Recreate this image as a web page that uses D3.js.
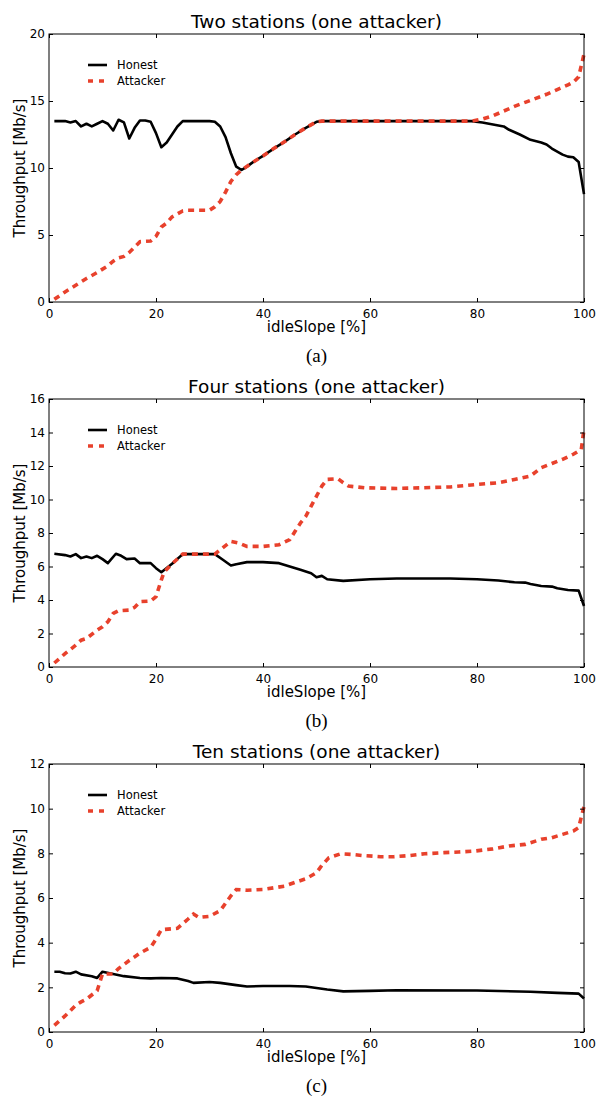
<!DOCTYPE html>
<html>
<head>
<meta charset="utf-8">
<script src="https://cdn.jsdelivr.net/npm/d3@7"></script>
<style>
  body { margin: 0; background: #fff; }
  svg { display: block; }
  text { font-family: 'DejaVu Sans', sans-serif; fill: #000; }
  .caption { font-family: 'Liberation Serif', 'DejaVu Serif', serif; }
</style>
</head>
<body>
<svg id="chart" width="600" height="1097"></svg>
<script>
// idleSlope [%] vs throughput [Mb/s]
const twoHonest = [[1,13.5],[3,13.5],[4,13.4],[5,13.5],[6,13.1],[7,13.3],[8,13.1],[9,13.3],[10,13.5],[11,13.3],[12,12.8],[13,13.6],[14,13.4],[15,12.2],[16,13.0],[17,13.55],[18,13.55],[19,13.45],[20,12.6],[21,11.55],[22,11.9],[23,12.5],[24,13.1],[25,13.5],[30,13.5],[31,13.45],[32,13.1],[33,12.3],[34,11.1],[35,10.1],[36,9.85],[37,10.1],[38,10.4],[40,10.9],[42,11.45],[44,11.95],[46,12.5],[48,13.0],[50,13.45],[51,13.5],[79,13.5],[81,13.4],[83,13.25],[85,13.1],[86,12.85],[88,12.5],[90,12.1],[92,11.9],[93,11.75],[94,11.45],[96,11.0],[97,10.85],[98,10.8],[99,10.45],[100,8.05]]
const twoAttacker = [[1,0.2],[3,0.75],[5,1.25],[7,1.75],[9,2.2],[11,2.7],[12,3.05],[13,3.3],[14,3.4],[15,3.7],[16,4.1],[17,4.5],[19,4.55],[20,4.9],[21,5.6],[22,5.9],[23,6.35],[25,6.8],[26,6.85],[30,6.85],[31,7.1],[32,7.5],[33,8.2],[34,9.0],[35,9.5],[36,9.85],[38,10.4],[40,10.9],[42,11.45],[44,11.95],[46,12.5],[48,13.0],[50,13.45],[51,13.5],[79,13.5],[81,13.65],[83,13.9],[85,14.25],[87,14.6],[89,14.9],[91,15.2],[93,15.5],[95,15.85],[97,16.2],[98,16.4],[99,16.8],[100,18.5]]

const fourHonest = [[1,6.76],[3,6.68],[4,6.6],[5,6.74],[6,6.5],[7,6.6],[8,6.5],[9,6.64],[10,6.44],[11,6.2],[12.5,6.76],[13.5,6.64],[14.5,6.44],[16,6.48],[17,6.2],[19,6.2],[20,5.9],[21,5.66],[23,6.16],[25,6.74],[31,6.74],[32.5,6.4],[34,6.06],[35,6.14],[37,6.26],[40,6.26],[43,6.2],[45,6.0],[47,5.8],[49,5.6],[50,5.36],[51,5.44],[52,5.24],[55,5.14],[60,5.24],[65,5.28],[75,5.28],[80,5.24],[84,5.16],[87,5.06],[89,5.04],[90,4.96],[92,4.84],[94,4.8],[95,4.7],[97,4.6],[99,4.56],[100,3.64]]
const fourAttacker = [[1,0.24],[3,0.8],[5,1.3],[6,1.6],[7,1.7],[9,2.2],[10,2.4],[11,2.7],[12,3.2],[13,3.36],[15,3.4],[16,3.56],[17,3.9],[19,3.94],[20,4.2],[21,5.2],[21.5,5.66],[23,6.16],[25,6.74],[31,6.74],[32,7.0],[34,7.5],[35.5,7.4],[37,7.2],[40,7.2],[43,7.3],[45,7.6],[46,8.1],[47,8.6],[48,9.0],[49,9.6],[50,10.2],[51,10.8],[52,11.2],[54,11.24],[55,11.0],[56,10.8],[59,10.7],[65,10.66],[70,10.7],[75,10.75],[80,10.9],[84,11.0],[87,11.2],[90,11.4],[92,11.9],[94,12.15],[96,12.4],[98,12.7],[99.5,13.0],[100,14.2]]

const tenHonest = [[1,2.7],[2,2.7],[3,2.63],[4,2.62],[5,2.7],[6,2.58],[8,2.5],[9,2.42],[10,2.7],[12,2.6],[14,2.5],[17,2.42],[19,2.4],[21,2.42],[24,2.4],[26,2.28],[27,2.2],[30,2.24],[32,2.2],[35,2.1],[37,2.04],[40,2.06],[45,2.06],[48,2.04],[52,1.9],[55,1.82],[60,1.84],[65,1.87],[80,1.86],[90,1.8],[95,1.75],[99,1.72],[100,1.5]]
const tenAttacker = [[1,0.3],[3,0.72],[5,1.2],[6,1.35],[7,1.47],[9,1.85],[10,2.6],[12,2.6],[13,2.84],[15,3.2],[17,3.53],[19,3.79],[20,4.16],[21,4.58],[24,4.64],[26,5.06],[27,5.28],[28,5.13],[30,5.18],[32,5.43],[34,6.1],[35,6.38],[37,6.35],[40,6.38],[44,6.53],[46,6.7],[48,6.86],[50,7.13],[51,7.46],[52.3,7.8],[54.5,7.98],[56.6,7.95],[58.7,7.9],[62,7.85],[64.5,7.85],[67.4,7.9],[70.2,7.98],[73.8,8.03],[76.6,8.06],[79.5,8.1],[83,8.2],[86,8.33],[89,8.4],[92,8.63],[94,8.7],[96,8.85],[98,9.0],[99,9.15],[100,10.1]]

const titles = ['Two stations (one attacker)', 'Four stations (one attacker)', 'Ten stations (one attacker)']
const captions = ['(a)', '(b)', '(c)']
const yMaxes = [20, 16, 12]
const yTicks = [[0, 5, 10, 15, 20], [0, 2, 4, 6, 8, 10, 12, 14, 16], [0, 2, 4, 6, 8, 10, 12]]
const xTicks = [0, 20, 40, 60, 80, 100]
const seriesNames = ['Honest', 'Attacker']

const honestColor = '#000000'
const attackerColor = '#e8412c'

const panels = [
  { honest: twoHonest, attacker: twoAttacker },
  { honest: fourHonest, attacker: fourAttacker },
  { honest: tenHonest, attacker: tenAttacker }
]

const left = 49
const right = 584
const plotTop = 34
const plotHeight = 268
const panelStep = 365
const tickLen = 4

const svg = d3.select('#chart')

function drawPanel(i) {
  const top = plotTop + i * panelStep
  const g = svg.append('g').attr('transform', 'translate(0,' + top + ')')

  const x = d3.scaleLinear().domain([0, 100]).range([left, right])
  const y = d3.scaleLinear().domain([0, yMaxes[i]]).range([plotHeight, 0])

  const line = d3.line().x((d) => x(d[0])).y((d) => y(d[1]))

  g.append('path')
    .datum(panels[i].honest)
    .attr('d', line)
    .attr('fill', 'none')
    .attr('stroke', honestColor)
    .attr('stroke-width', 2.6)
    .attr('stroke-linejoin', 'round')

  g.append('path')
    .datum(panels[i].attacker)
    .attr('d', line)
    .attr('fill', 'none')
    .attr('stroke', attackerColor)
    .attr('stroke-width', 3.6)
    .attr('stroke-dasharray', '6,5')

  // ticks inward on all four sides, like matplotlib classic
  const axisBottom = d3.axisBottom(x).tickValues(xTicks).tickSizeInner(-tickLen).tickSizeOuter(0).tickPadding(7)
  const axisTop = d3.axisTop(x).tickValues(xTicks).tickSizeInner(-tickLen).tickSizeOuter(0).tickFormat('')
  const axisLeft = d3.axisLeft(y).tickValues(yTicks[i]).tickSizeInner(-tickLen).tickSizeOuter(0).tickPadding(4)
  const axisRight = d3.axisRight(y).tickValues(yTicks[i]).tickSizeInner(-tickLen).tickSizeOuter(0).tickFormat('')

  const axes = [
    g.append('g').attr('transform', 'translate(0,' + plotHeight + ')').call(axisBottom),
    g.append('g').call(axisTop),
    g.append('g').attr('transform', 'translate(' + left + ',0)').call(axisLeft),
    g.append('g').attr('transform', 'translate(' + right + ',0)').call(axisRight)
  ]
  axes.forEach((a) => {
    a.select('.domain').remove()
    a.selectAll('line').attr('stroke', '#000')
    a.selectAll('text').attr('font-family', 'DejaVu Sans').attr('font-size', 12).attr('fill', '#000')
  })

  g.append('rect')
    .attr('x', left)
    .attr('y', 0)
    .attr('width', right - left)
    .attr('height', plotHeight)
    .attr('fill', 'none')
    .attr('stroke', '#000')
    .attr('stroke-width', 1)

  g.append('text')
    .attr('x', (left + right) / 2)
    .attr('y', -6)
    .attr('text-anchor', 'middle')
    .attr('font-size', 18.5)
    .text(titles[i])

  g.append('text')
    .attr('x', (left + right) / 2)
    .attr('y', plotHeight + 30)
    .attr('text-anchor', 'middle')
    .attr('font-size', 15)
    .text('idleSlope [%]')

  g.append('text')
    .attr('transform', 'translate(25,' + plotHeight / 2 + ') rotate(-90)')
    .attr('text-anchor', 'middle')
    .attr('font-size', 15)
    .text('Throughput [Mb/s]')

  g.append('text')
    .attr('class', 'caption')
    .attr('x', (left + right) / 2)
    .attr('y', plotHeight + 60)
    .attr('text-anchor', 'middle')
    .attr('font-size', 19)
    .text(captions[i])

  // legend
  const legend = g.append('g').attr('transform', 'translate(88,31)')
  legend.selectAll('line')
    .data(seriesNames)
    .enter()
    .append('line')
    .attr('x1', 0)
    .attr('x2', 19)
    .attr('y1', (d, k) => k * 16)
    .attr('y2', (d, k) => k * 16)
    .attr('stroke', (d, k) => (k === 0 ? honestColor : attackerColor))
    .attr('stroke-width', (d, k) => (k === 0 ? 2.6 : 3.6))
    .attr('stroke-dasharray', (d, k) => (k === 0 ? undefined : '5,6'))
  legend.selectAll('text')
    .data(seriesNames)
    .enter()
    .append('text')
    .attr('x', 29)
    .attr('y', (d, k) => k * 16)
    .attr('dy', '0.35em')
    .attr('font-size', 11.5)
    .text((d) => d)
}

titles.forEach((_, i) => drawPanel(i))
</script>
</body>
</html>
